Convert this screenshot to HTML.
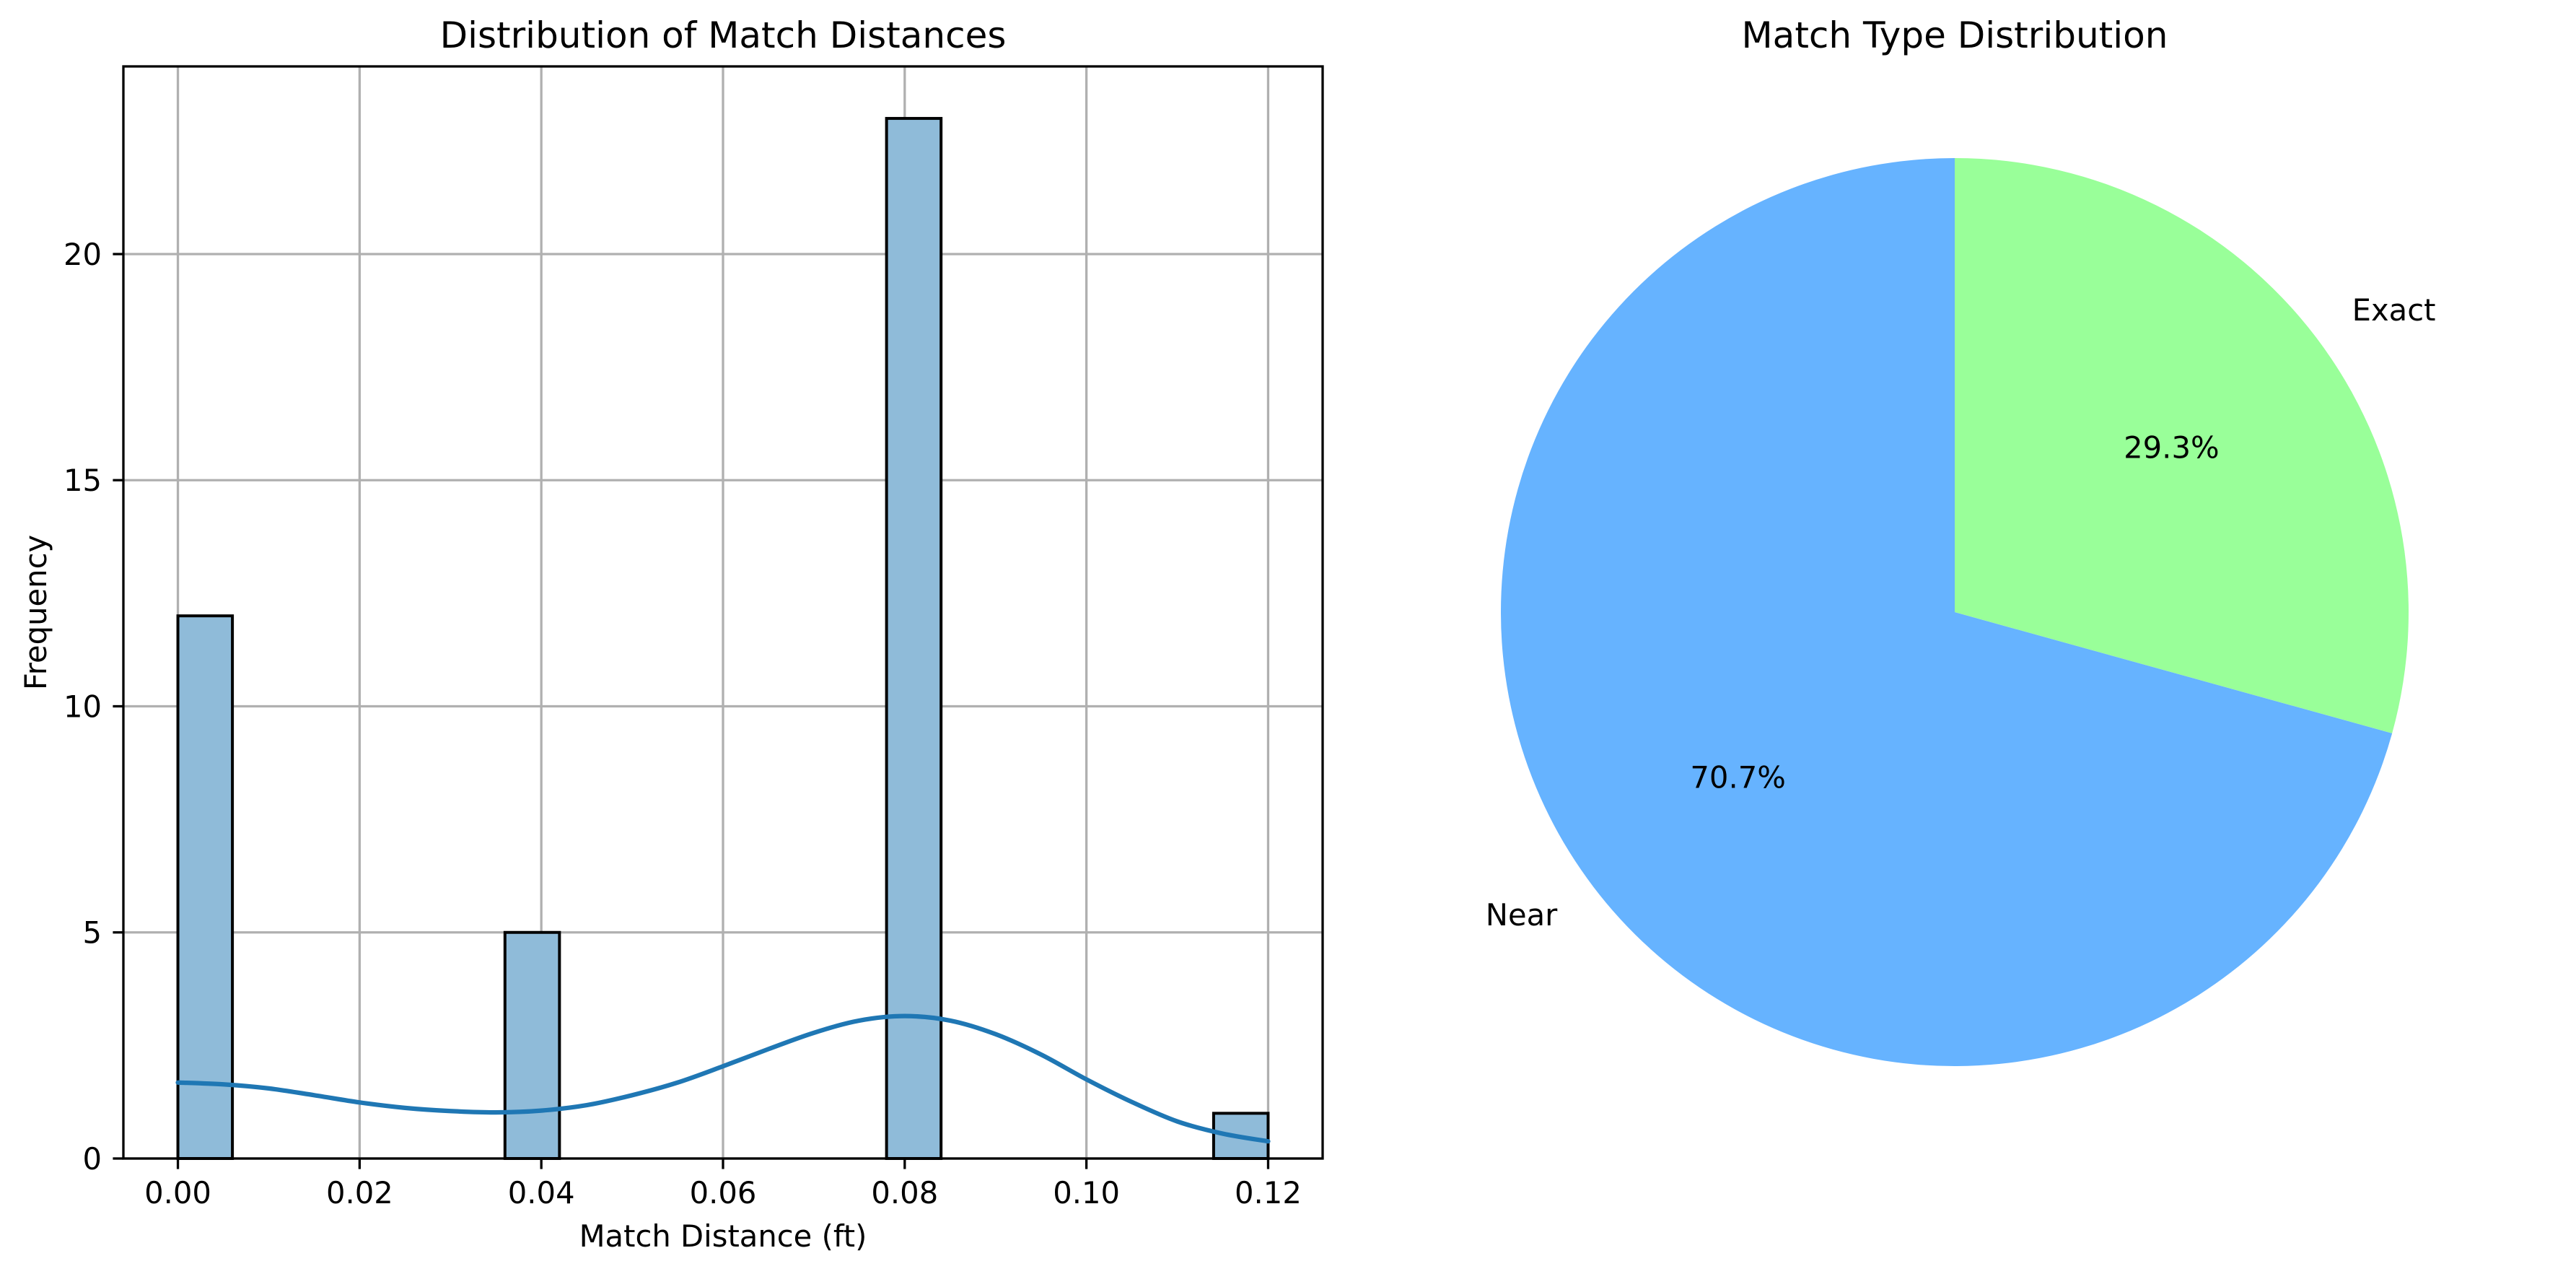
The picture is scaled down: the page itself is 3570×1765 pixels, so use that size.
<!DOCTYPE html>
<html><head><meta charset="utf-8">
<style>
html,body{margin:0;padding:0;background:#fff;}
svg{display:block;font-family:"DejaVu Sans","Liberation Sans",sans-serif;}
</style></head>
<body>
<svg id="fig" width="3570" height="1765" viewBox="0 0 3570 1765" xmlns="http://www.w3.org/2000/svg">
<rect width="3570" height="1765" fill="#fff"/>
<g id="hist"></g>
<g id="pie"></g>
</svg>
<script>
// ---- histogram data ----
const binStarts = [0.0, 0.036, 0.078, 0.114];
const binCounts = [12, 5, 23, 1];
const binWidth = 0.006;
const kdeX = [0,0.005,0.01,0.015,0.02,0.025,0.03,0.035,0.04,0.045,0.05,0.055,0.06,0.065,0.07,0.075,0.08,0.085,0.09,0.095,0.1,0.105,0.11,0.115,0.12];
const kdeY = [1.68,1.64,1.55,1.40,1.24,1.12,1.05,1.02,1.06,1.18,1.40,1.68,2.04,2.42,2.78,3.05,3.15,3.05,2.75,2.30,1.75,1.25,0.82,0.55,0.38];
const xTicks = [0,0.02,0.04,0.06,0.08,0.10,0.12];
const xTickLabels = ["0.00","0.02","0.04","0.06","0.08","0.10","0.12"];
const yTicks = [0,5,10,15,20];
const yTickLabels = ["0","5","10","15","20"];
// ---- pie data ----
const pieLabels = ["Near","Exact"];
const pieValues = [70.7, 29.3];
const pieColors = ["#66b3ff","#99ff99"];

const NS="http://www.w3.org/2000/svg";
function mk(tag, attrs, parent, text){
  const e=document.createElementNS(NS,tag);
  for(const k in attrs) e.setAttribute(k, attrs[k]);
  if(text!==undefined) e.textContent=text;
  parent.appendChild(e); return e;
}
const H=document.getElementById('hist');
const L=171,R=1833,T=92,B=1605;
const xmin=-0.006,xmax=0.126,ymin=0,ymax=24.15;
const sx=v=>L+(v-xmin)/(xmax-xmin)*(R-L);
const sy=v=>B-(v-ymin)/(ymax-ymin)*(B-T);

// grid
xTicks.forEach((t,i)=>{
  const g=mk('line',{x1:sx(t),x2:sx(t),y1:T,y2:B,stroke:'#b0b0b0','stroke-width':3.3},H);
  
  
});
yTicks.forEach((t,i)=>{
  const g=mk('line',{x1:L,x2:R,y1:sy(t),y2:sy(t),stroke:'#b0b0b0','stroke-width':3.3},H);
  
  
});
// bars
binStarts.forEach((s,i)=>{
  const x0=sx(s),x1=sx(s+binWidth),y=sy(binCounts[i]);
  const r=mk('rect',{x:x0,y:y,width:x1-x0,height:sy(0)-y,fill:'#8fbbd9',stroke:'#000','stroke-width':4},H);
  
  
});
// kde curve (catmull-rom)
(function(){
  const p=kdeX.map((x,i)=>[sx(x),sy(kdeY[i])]);
  let d=`M${p[0][0]},${p[0][1]}`;
  for(let i=0;i<p.length-1;i++){
    const p0=p[Math.max(0,i-1)],p1=p[i],p2=p[i+1],p3=p[Math.min(p.length-1,i+2)];
    const c1=[p1[0]+(p2[0]-p0[0])/6,p1[1]+(p2[1]-p0[1])/6];
    const c2=[p2[0]-(p3[0]-p1[0])/6,p2[1]-(p3[1]-p1[1])/6];
    d+=` C${c1[0]},${c1[1]} ${c2[0]},${c2[1]} ${p2[0]},${p2[1]}`;
  }
  const k=mk('path',{d:d,fill:'none',stroke:'#1f77b4','stroke-width':6.25,'stroke-linecap':'round'},H);
  
  
})();
// frame
const fr=mk('rect',{x:L,y:T,width:R-L,height:B-T,fill:'none',stroke:'#000','stroke-width':3.3},H);


// ticks
xTicks.forEach((t,i)=>{
  mk('line',{x1:sx(t),x2:sx(t),y1:B,y2:B+14.6,stroke:'#000','stroke-width':3.3},H);
  const tx=mk('text',{x:sx(t),y:1667,'font-size':41.7,'text-anchor':'middle',fill:'#000'},H,xTickLabels[i]);
  
  
});
yTicks.forEach((t,i)=>{
  mk('line',{x1:L-14.6,x2:L,y1:sy(t),y2:sy(t),stroke:'#000','stroke-width':3.3},H);
  const tx=mk('text',{x:141,y:sy(t)+15,'font-size':41.7,'text-anchor':'end',fill:'#000'},H,yTickLabels[i]);
  
  
});
const t1=mk('text',{x:(L+R)/2,y:66,'font-size':50,'text-anchor':'middle'},H,'Distribution of Match Distances');


const xl=mk('text',{x:(L+R)/2,y:1727,'font-size':41.7,'text-anchor':'middle'},H,'Match Distance (ft)');


const yl=mk('text',{x:0,y:0,'font-size':41.7,'text-anchor':'middle',transform:`translate(64,${(T+B)/2}) rotate(-90)`},H,'Frequency');



// ---- pie ----
const P=document.getElementById('pie');
const cx=2709,cy=848,rad=629;
const total=pieValues.reduce((a,b)=>a+b,0);
let ang=90;
pieValues.forEach((v,i)=>{
  const sweep=v/total*360;
  const a0=ang*Math.PI/180,a1=(ang+sweep)*Math.PI/180;
  const x0=cx+rad*Math.cos(a0),y0=cy-rad*Math.sin(a0);
  const x1=cx+rad*Math.cos(a1),y1=cy-rad*Math.sin(a1);
  const large=sweep>180?1:0;
  const w=mk('path',{d:`M${cx},${cy} L${x0},${y0} A${rad},${rad} 0 ${large} 0 ${x1},${y1} Z`,fill:pieColors[i]},P);
  
  
  const mid=(ang+sweep/2)*Math.PI/180;
  const lx=cx+1.1*rad*Math.cos(mid),ly=cy-1.1*rad*Math.sin(mid);
  const lb=mk('text',{x:lx,y:ly+15,'font-size':41.7,'text-anchor':Math.cos(mid)>0?'start':'end'},P,pieLabels[i]);
  
  
  const px=cx+0.6*rad*Math.cos(mid),py=cy-0.6*rad*Math.sin(mid);
  const pt=mk('text',{x:px,y:py+15,'font-size':41.7,'text-anchor':'middle'},P,v.toFixed(1)+'%');
  
  
  ang+=sweep;
});
const t2=mk('text',{x:cx,y:66,'font-size':50,'text-anchor':'middle'},P,'Match Type Distribution');


</script>
</body></html>
